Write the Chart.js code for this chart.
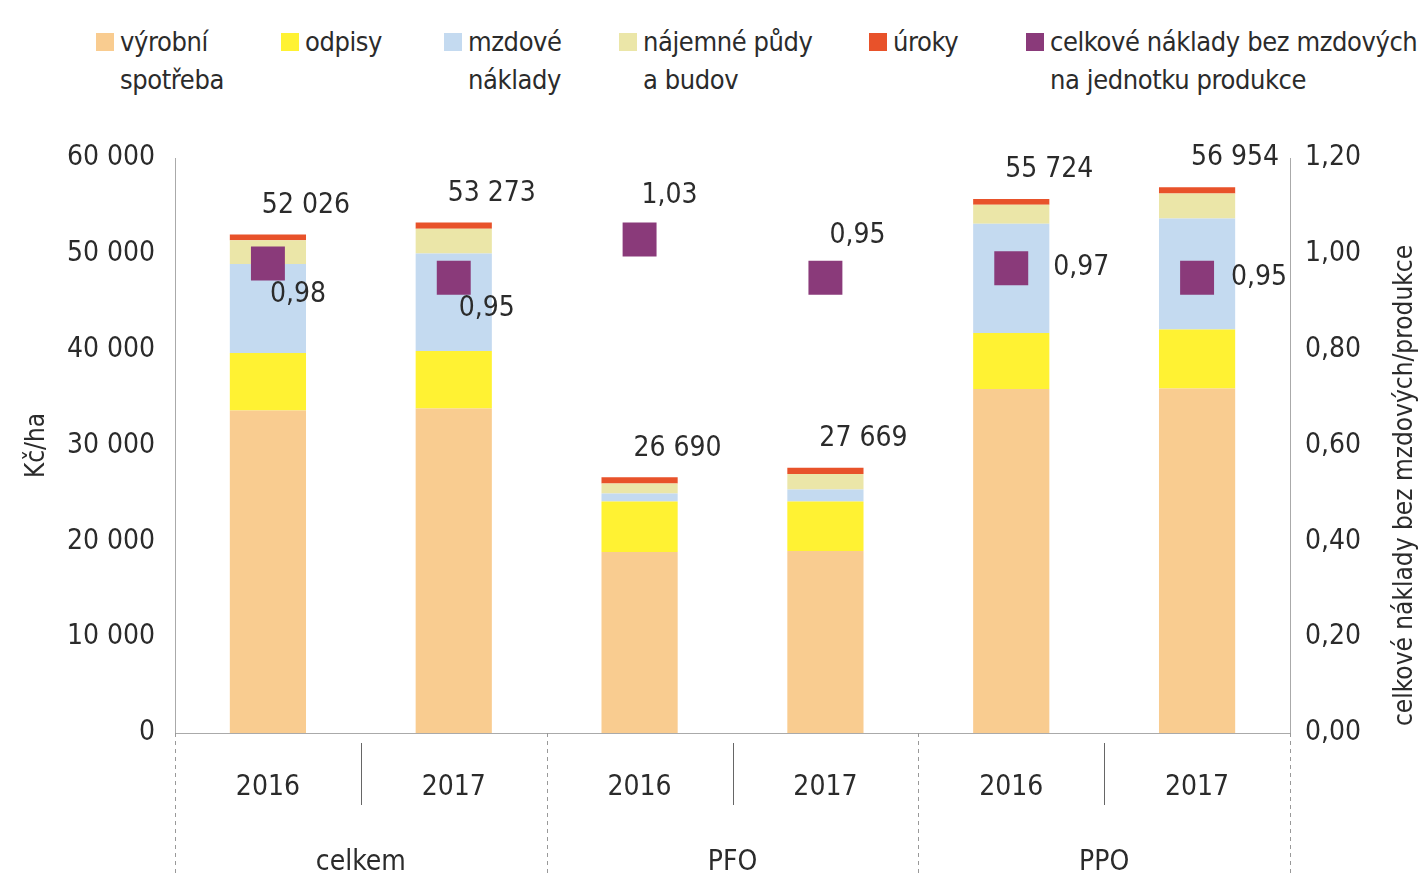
<!DOCTYPE html>
<html lang="cs">
<head>
<meta charset="utf-8">
<title>Náklady na hektar</title>
<script src="https://cdn.jsdelivr.net/npm/chart.js@4.4.1/dist/chart.umd.min.js"></script>
<style>
  html, body { margin: 0; background: #fff; }
  .wrap {
    position: relative; width: 1427px; height: 873px;
    font-family: 'DejaVu Sans Condensed', 'DejaVu Sans', sans-serif; color: #2b2b2b;
  }
  .wrap canvas { position: absolute; left: 0; top: 0; }
  .legend-item { position: absolute; top: 23px; font-size: 27px; line-height: 38px; white-space: pre; letter-spacing: -0.4px; }
  .legend-item .box { position: absolute; left: -24px; top: 10px; width: 18px; height: 18px; }
</style>
</head>
<body>
<div class="wrap">
  <div id="legend"></div>
  <canvas id="costChart" width="1427" height="873"></canvas>
</div>
<script>
// data (Kč/ha)
const years = ['2016', '2017', '2016', '2017', '2016', '2017'];
const groups = ['celkem', 'PFO', 'PPO'];
const vyrobniSpotreba = [33650, 33850, 18900, 19000, 35900, 35950];
const odpisy = [6000, 6000, 5250, 5150, 5850, 6160];
const mzdoveNaklady = [9280, 10180, 850, 1250, 11380, 11590];
const najemnePudy = [2500, 2600, 1040, 1620, 2000, 2600];
const uroky = [596, 643, 650, 649, 594, 654];
const nakladyNaJednotku = [0.98, 0.95, 1.03, 0.95, 0.97, 0.95];

const seriesNames = ['výrobní\nspotřeba', 'odpisy', 'mzdové\nnáklady', 'nájemné půdy\na budov', 'úroky',
  'celkové náklady bez mzdových\nna jednotku produkce'];
const rightTitle = 'celkové náklady bez mzdových/produkce';

// styling
const colors = ['#f9cc90', '#fff233', '#c4daf0', '#ebe6a8', '#e8522a', '#8a3a7a'];
const legendLeft = [120, 305, 468, 643, 893, 1050];
const pointLabelOffsets = [[30, 31], [33, 31], [30, -44], [32, -42], [70, 0], [62, 0]];
const textColor = '#2b2b2b';
const fontFamily = "'DejaVu Sans Condensed', 'DejaVu Sans', sans-serif";

Chart.defaults.font.family = fontFamily;
Chart.defaults.font.size = 28;
Chart.defaults.color = textColor;

const fmtThousands = v => String(Math.round(v)).replace(/\B(?=(\d{3})+(?!\d))/g, ' ');
const fmtDec = v => v.toFixed(2).replace('.', ',');

const barSeries = [vyrobniSpotreba, odpisy, mzdoveNaklady, najemnePudy, uroky];

const datasets = barSeries.map((values, i) => ({
  type: 'bar',
  label: seriesNames[i].replace('\n', ' '),
  data: values,
  backgroundColor: colors[i],
  borderWidth: 0,
  yAxisID: 'y'
}));
datasets.push({
  type: 'line',
  label: seriesNames[5].replace('\n', ' '),
  data: nakladyNaJednotku,
  showLine: false,
  pointStyle: 'rect',
  pointRadius: 24,
  pointBorderWidth: 0,
  pointBackgroundColor: colors[5],
  borderColor: colors[5],
  yAxisID: 'y1',
  order: -1
});

// value labels: totals above bars, ratios next to the squares
const labelPlugin = {
  id: 'valueLabels',
  afterDatasetsDraw(chart) {
    const { ctx, scales: { x, y, y1 } } = chart;
    ctx.save();
    ctx.font = '28px ' + fontFamily;
    ctx.fillStyle = textColor;
    ctx.textAlign = 'center';
    ctx.textBaseline = 'middle';
    years.forEach((_, i) => {
      const total = barSeries.reduce((s, d) => s + d[i], 0);
      ctx.fillText(fmtThousands(total), x.getPixelForValue(i) + 38, y.getPixelForValue(total) - 29);
      const v = nakladyNaJednotku[i];
      const [dx, dy] = pointLabelOffsets[i];
      ctx.fillText(fmtDec(v), x.getPixelForValue(i) + dx, y1.getPixelForValue(v) + dy);
    });
    ctx.restore();
  }
};

// separators between categories under the axis + right axis title reading upwards
const separatorPlugin = {
  id: 'separators',
  afterDraw(chart) {
    const { ctx, scales: { x, y, y1 } } = chart;
    const step = x.width / years.length;
    ctx.save();
    for (let i = 0; i <= years.length; i++) {
      const px = Math.round(x.left + i * step) + 0.5;
      ctx.beginPath();
      if (i % 2 === 1) {
        ctx.setLineDash([]);
        ctx.strokeStyle = '#666';
        ctx.moveTo(px, y.bottom + 10);
        ctx.lineTo(px, y.bottom + 72);
      } else {
        ctx.setLineDash([4, 4]);
        ctx.strokeStyle = '#999';
        ctx.moveTo(px, y.bottom);
        ctx.lineTo(px, chart.height);
      }
      ctx.lineWidth = 1;
      ctx.stroke();
    }
    ctx.setLineDash([]);
    ctx.translate(chart.width - 22, (y1.top + y1.bottom) / 2 + 40);
    ctx.rotate(-Math.PI / 2);
    ctx.font = '26px ' + fontFamily;
    ctx.fillStyle = textColor;
    ctx.textAlign = 'center';
    ctx.textBaseline = 'middle';
    ctx.fillText(rightTitle, 0, 0);
    ctx.restore();
  }
};

const chart = new Chart(document.getElementById('costChart'), {
  data: { labels: years, datasets },
  options: {
    responsive: false,
    animation: false,
    layout: { padding: { top: 158, left: 0, right: 0, bottom: 0 } },
    plugins: { legend: { display: false }, tooltip: { enabled: false } },
    scales: {
      x: {
        stacked: true,
        offset: true,
        grid: { display: false },
        border: { display: true, color: '#aaa' },
        ticks: { padding: 30, font: { size: 28 } },
        afterFit: s => { s.height = 67; }
      },
      x2: {
        type: 'category',
        labels: groups,
        position: 'bottom',
        offset: true,
        weight: 1,
        grid: { display: false },
        border: { display: false },
        ticks: { padding: 38, font: { size: 28 } },
        afterFit: s => { s.height = 73; }
      },
      y: {
        stacked: true,
        min: 0,
        max: 60000,
        position: 'left',
        grid: { display: false, drawTicks: false },
        border: { display: true, color: '#aaa' },
        ticks: { stepSize: 10000, padding: 20, callback: v => fmtThousands(v) },
        title: { display: true, text: 'Kč/ha', font: { size: 26 }, padding: { top: 22, bottom: 4 } },
        afterFit: s => { s.width = 175; }
      },
      y1: {
        min: 0,
        max: 1.2,
        position: 'right',
        grid: { display: false, drawTicks: false },
        border: { display: true, color: '#aaa', dash: [3, 3] },
        ticks: { stepSize: 0.2, padding: 15, callback: v => fmtDec(v) },
        afterFit: s => { s.width = 137; }
      }
    },
    datasets: { bar: { categoryPercentage: 1, barPercentage: 0.41 } }
  },
  plugins: [labelPlugin, separatorPlugin]
});

// html legend built from the chart's datasets
const legendEl = document.getElementById('legend');
chart.data.datasets.forEach((ds, i) => {
  const item = document.createElement('div');
  item.className = 'legend-item';
  item.style.left = legendLeft[i] + 'px';
  item.innerHTML = `<span class="box" style="background:${colors[i]}"></span>`;
  item.appendChild(document.createTextNode(seriesNames[i]));
  legendEl.appendChild(item);
});
</script>
</body>
</html>
